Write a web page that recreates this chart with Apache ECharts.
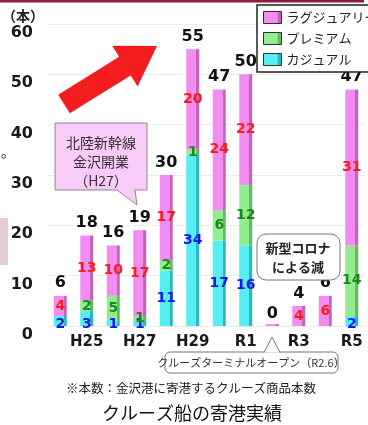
<!DOCTYPE html>
<html>
<head>
<meta charset="utf-8">
<script src="https://cdn.jsdelivr.net/npm/echarts@6/dist/echarts.min.js"></script>
<style>
  html, body { margin: 0; padding: 0; background: #fff; }
  #chart { width: 368px; height: 425px; }
</style>
</head>
<body>
<div id="chart"></div>
<script>
// Fiscal years (Heisei / Reiwa)
const years = ['H24', 'H25', 'H26', 'H27', 'H28', 'H29', 'H30', 'R1', 'R2', 'R3', 'R4', 'R5'];
// Cruise calls by class
const casual  = [2, 3, 1, 1, 11, 34, 17, 16, 0, 0, 0, 2];
const premium = [0, 2, 5, 1, 2, 1, 6, 12, 0, 0, 0, 14];
const luxury  = [4, 13, 10, 17, 17, 20, 24, 22, 0, 4, 6, 31];
const totals  = [6, 18, 16, 19, 30, 55, 47, 50, 0, 4, 6, 47];
const yTicks  = [0, 10, 20, 30, 40, 50, 60];

const NAME_LUX = 'ラグジュアリー';
const NAME_PRE = 'プレミアム';
const NAME_CAS = 'カジュアル';

const numFont = 'DejaVu Sans';
const jpFont = '"Noto Sans CJK JP", "Noto Sans", sans-serif';

// Bar fill with a darker right face for a slight 3D look
function face(base, side) {
  return {
    type: 'linear', x: 0, y: 0, x2: 1, y2: 0,
    colorStops: [
      { offset: 0, color: base }, { offset: 0.76, color: base },
      { offset: 0.77, color: side }, { offset: 1, color: side }
    ]
  };
}

function segLabel(color) {
  return {
    show: true,
    position: 'inside',
    fontFamily: numFont,
    fontWeight: 'bold',
    fontSize: 14,
    color: color,
    formatter: p => (p.value === 0 ? '' : String(p.value))
  };
}

// Small casual values sit on the base line
const casualData = casual.map(v => {
  if (v > 0 && v < 5) {
    return { value: v, label: { position: 'insideBottom', offset: [0, 10] } };
  }
  return v;
});

const chart = echarts.init(document.getElementById('chart'), null, { renderer: 'canvas' });

// Decorative red arrow (upward trend)
const arrowPts = [[69.8, 113.3], [58.2, 94.7], [119.1, 56.8], [112.2, 45.8], [157, 46], [137.6, 86.4], [130.7, 75.4]];

chart.setOption({
  backgroundColor: '#fff',
  animation: false,
  grid: { left: 47, right: 3, top: 24, bottom: 99 },
  legend: {
    data: [NAME_LUX, NAME_PRE, NAME_CAS],
    orient: 'vertical',
    left: 257, top: 5,
    backgroundColor: '#fff',
    borderColor: '#222', borderWidth: 1.5,
    padding: [6, 8, 6, 6],
    itemGap: 8,
    itemWidth: 18, itemHeight: 12,
    icon: 'rect',
    itemStyle: { borderColor: '#333', borderWidth: 1 },
    textStyle: { fontFamily: jpFont, fontSize: 13, color: '#222' },
    z: 20
  },
  xAxis: {
    type: 'category',
    data: years,
    axisLine: { show: false },
    axisTick: { show: false },
    axisLabel: {
      interval: (i) => i % 2 === 1,
      margin: 9,
      fontFamily: numFont, fontWeight: 'bold', fontSize: 15, color: '#1a1a1a'
    }
  },
  yAxis: {
    type: 'value',
    min: yTicks[0], max: yTicks[yTicks.length - 1], interval: 10,
    axisLine: { show: false },
    axisTick: { show: false },
    splitLine: { lineStyle: { color: '#ececec', width: 1 } },
    axisLabel: {
      margin: 14,
      verticalAlign: 'top',
      padding: [1, 0, 0, 0],
      fontFamily: numFont, fontWeight: 'bold', fontSize: 16, color: '#1a1a1a'
    }
  },
  series: [
    {
      name: NAME_CAS, type: 'bar', stack: 'calls', barWidth: 13,
      data: casualData,
      itemStyle: { color: face('#55eef2', '#2bb8bd') },
      label: segLabel('#1515f0')
    },
    {
      name: NAME_PRE, type: 'bar', stack: 'calls', barWidth: 13,
      data: premium,
      itemStyle: { color: face('#93ec8e', '#62bc5e') },
      label: segLabel('#1a8a1a')
    },
    {
      name: NAME_LUX, type: 'bar', stack: 'calls', barWidth: 13,
      barMinHeight: 2,
      data: luxury,
      itemStyle: { color: face('#f38cf0', '#c064bd') },
      label: segLabel('#ff1a1a')
    },
    {
      // yearly totals written above each bar
      name: 'total', type: 'scatter',
      data: totals,
      symbolSize: 1,
      itemStyle: { color: 'rgba(0,0,0,0)', opacity: 1 },
      label: {
        show: true, position: 'top', distance: 4,
        fontFamily: numFont, fontWeight: 'bold', fontSize: 16, color: '#111'
      },
      z: 4
    }
  ],
  graphic: [
    // top rule
    { type: 'rect', shape: { x: 0, y: 0, width: 364, height: 2.5 }, style: { fill: '#8c1c3e' }, z: 10 },
    // unit label
    { type: 'text', x: 23, y: 16, style: { text: '（本）', fontSize: 14, fontWeight: 'bold', fill: '#222', fontFamily: jpFont, align: 'center', verticalAlign: 'middle' } },
    // fragments at the left edge
    { type: 'rect', shape: { x: 0, y: 218, width: 8, height: 47 }, style: { fill: '#e7ccd6' } },
    { type: 'text', left: 1, top: 145, style: { text: '。', fontSize: 14, fill: '#222', fontFamily: jpFont } },
    // trend arrow
    { type: 'polygon', shape: { points: arrowPts }, style: { fill: '#f41d1d' }, z: 5 },
    // Hokuriku Shinkansen callout
    {
      type: 'polygon',
      shape: { points: [[55, 123], [147, 123], [147, 190], [135, 190], [137, 205], [117, 190], [55, 190]] },
      style: { fill: '#f9cbf9', stroke: '#8a8a8a', lineWidth: 1 }, z: 5
    },
    { type: 'text', x: 101, y: 143, z: 6, style: { text: '北陸新幹線', fontSize: 14, fill: '#333', fontFamily: jpFont, align: 'center', verticalAlign: 'middle' } },
    { type: 'text', x: 101, y: 162, z: 6, style: { text: '金沢開業', fontSize: 14, fill: '#333', fontFamily: jpFont, align: 'center', verticalAlign: 'middle' } },
    { type: 'text', x: 101, y: 181, z: 6, style: { text: '（H27）', fontSize: 14, fill: '#333', fontFamily: jpFont, align: 'center', verticalAlign: 'middle' } },
    // COVID note
    { type: 'rect', shape: { x: 257, y: 234, width: 83, height: 46, r: 9 }, style: { fill: '#fff', stroke: '#777', lineWidth: 1 }, z: 5 },
    { type: 'text', x: 298, y: 248, z: 6, style: { text: '新型コロナ', fontSize: 13, fontWeight: 'bold', fill: '#222', fontFamily: jpFont, align: 'center', verticalAlign: 'middle' } },
    { type: 'text', x: 298, y: 267, z: 6, style: { text: 'による減', fontSize: 13, fontWeight: 'bold', fill: '#222', fontFamily: jpFont, align: 'center', verticalAlign: 'middle' } },
    // terminal opening note
    { type: 'rect', shape: { x: 165, y: 352, width: 173, height: 21, r: 5 }, style: { fill: '#fff', stroke: '#777', lineWidth: 1 }, z: 5 },
    { type: 'polyline', shape: { points: [[264, 352.5], [272, 337], [280, 352.5]] }, style: { fill: '#fff', stroke: '#777', lineWidth: 1 }, z: 6 },
    { type: 'text', x: 251, y: 363, z: 7, style: { text: 'クルーズターミナルオープン（R2.6）', fontSize: 11, fill: '#333', fontFamily: jpFont, align: 'center', verticalAlign: 'middle' } },
    // footnote and caption
    { type: 'text', x: 191, y: 388, style: { text: '※本数：金沢港に寄港するクルーズ商品本数', fontSize: 12.5, fill: '#222', fontFamily: jpFont, align: 'center', verticalAlign: 'middle' } },
    { type: 'text', x: 192, y: 413, style: { text: 'クルーズ船の寄港実績', fontSize: 18, fill: '#111', fontFamily: jpFont, align: 'center', verticalAlign: 'middle' } }
  ]
});
</script>
</body>
</html>
